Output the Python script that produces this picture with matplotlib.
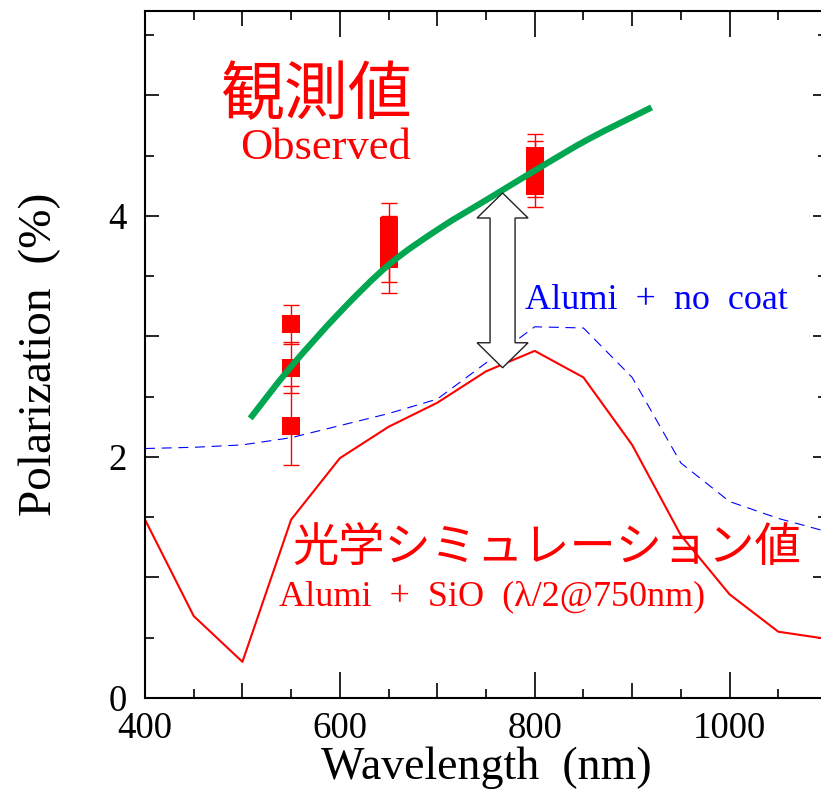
import numpy as np
import matplotlib
matplotlib.use("Agg")
import matplotlib.pyplot as plt
from matplotlib.patches import Polygon, PathPatch
from matplotlib.path import Path
from matplotlib.transforms import IdentityTransform

plt.rcParams['font.family'] = ['Liberation Serif', 'DejaVu Sans']
JP = ['Noto Sans CJK JP', 'DejaVu Sans']

# simulation: Alumi + SiO (lambda/2 @ 750nm)
sim_wl = [400, 450, 500, 550, 600, 650, 700, 750, 800, 850, 900, 950, 1000, 1050, 1100]
sim_sio = [1.48, 0.68, 0.30, 1.48, 1.99, 2.25, 2.45, 2.71, 2.88, 2.66, 2.10, 1.35, 0.86, 0.55, 0.49]

# simulation: Alumi + no coat
nocoat = [2.07, 2.08, 2.10, 2.16, 2.26, 2.36, 2.48, 2.78, 3.08, 3.07, 2.66, 1.95, 1.63, 1.49, 1.38]

# observed values with errors
obs_wl = [550, 550, 550, 650, 650, 650, 650, 800, 800, 800, 800]
obs_pol = [3.10, 2.74, 2.26, 3.92, 3.80, 3.70, 3.64, 4.50, 4.43, 4.33, 4.25]
obs_err = [0.16, 0.21, 0.33, 0.19, 0.20, 0.25, 0.28, 0.18, 0.19, 0.17, 0.18]

# green trend curve
fit_wl = [508, 549, 600, 651, 703, 754, 805, 856, 920]
fit_pol = [2.32, 2.74, 3.20, 3.60, 3.90, 4.15, 4.40, 4.64, 4.90]

# gap arrow
arrow_wl = 767
arrow_top = 4.19
arrow_bottom = 2.74


def smooth_path(xs, ys):
    # Catmull-Rom through the points, as cubic Bezier segments
    pts = np.column_stack([xs, ys]).astype(float)
    verts = [pts[0]]
    codes = [Path.MOVETO]
    n = len(pts)
    for i in range(n - 1):
        p0 = pts[max(i - 1, 0)]
        p1 = pts[i]
        p2 = pts[i + 1]
        p3 = pts[min(i + 2, n - 1)]
        c1 = p1 + (p2 - p0) / 6.0
        c2 = p2 - (p3 - p1) / 6.0
        verts += [c1, c2, p2]
        codes += [Path.CURVE4] * 3
    return Path(verts, codes)


fig = plt.figure(figsize=(8.21, 7.92), dpi=100)
ax = fig.add_axes([145/821, 94/792, 682/821, 687/792])

ax.plot(sim_wl, sim_sio, color='#ff0000', lw=1.5, zorder=2)
ax.plot(sim_wl, nocoat, color='#0000ff', lw=0.8, dashes=(9, 6), zorder=2)
ax.add_patch(PathPatch(smooth_path(fit_wl, fit_pol), facecolor='none',
                       edgecolor='#00a650', lw=4.5, capstyle='butt', zorder=4))
ax.errorbar(obs_wl, obs_pol, yerr=obs_err, fmt='none', ecolor='#ff0000',
            elinewidth=1.0, capsize=6, capthick=1.0, zorder=3)
ax.plot(obs_wl, obs_pol, 's', color='#ff0000', ms=13, mew=0, zorder=3)

ax.set_xlim(400, 1100)
ax.set_ylim(0, 5.7)

# ticks
xt = list(range(400, 1101, 100))
ax.set_xticks(xt)
ax.set_xticklabels([str(v) if v % 200 == 0 else '' for v in xt])
ax.set_xticks(range(450, 1100, 100), minor=True)
yt = [0, 1, 2, 3, 4, 5]
ax.set_yticks(yt)
ax.set_yticklabels([str(v) if v % 2 == 0 else '' for v in yt])
ax.set_yticks(np.arange(0.5, 5.7, 1.0), minor=True)
ax.tick_params(which='both', direction='in', top=True, right=True, width=1.2,
               labelsize=26.5, colors='black')
ax.tick_params(axis='x', which='major', pad=10)
ax.tick_params(axis='y', which='major', length=10, pad=13)
ax.tick_params(axis='x', which='minor', length=6.5)
ax.tick_params(axis='y', which='minor', length=6.5)
for tk, v in zip(ax.xaxis.get_major_ticks(), xt):
    L = 18.7 if v % 200 == 0 else 10.8
    tk.tick1line.set_markersize(L)
    tk.tick2line.set_markersize(L)
for s in ax.spines.values():
    s.set_linewidth(1.5)

ax.set_xlabel('Wavelength  (nm)', fontsize=33, labelpad=0)
ax.set_ylabel('Polarization  (%)', fontsize=34, labelpad=34)

# text labels
ax.text(575, 5.0, '観測値', color='#ff0000', fontsize=46, family=JP,
        ha='center', va='center')
ax.text(585, 4.56, 'Observed', color='#ff0000', fontsize=32,
        ha='center', va='center')
ax.text(790, 3.30, 'Alumi  +  no  coat', color='#0000ff', fontsize=26,
        ha='left', va='center')
ax.text(551, 1.25, '光学シミュレーション値', color='#ff0000', fontsize=33.3,
        family=JP, ha='left', va='center')
ax.text(538, 0.84, 'Alumi  +  SiO  (λ/2@750nm)', color='#ff0000', fontsize=26,
        ha='left', va='center')

# hollow double arrow, sized in pixels
x0, yt_px = ax.transData.transform((arrow_wl, arrow_top))
_, yb_px = ax.transData.transform((arrow_wl, arrow_bottom))
hw, hl, sw = 51, 25, 25
verts = [(x0, yt_px), (x0 + hw/2, yt_px - hl), (x0 + sw/2, yt_px - hl),
         (x0 + sw/2, yb_px + hl), (x0 + hw/2, yb_px + hl), (x0, yb_px),
         (x0 - hw/2, yb_px + hl), (x0 - sw/2, yb_px + hl),
         (x0 - sw/2, yt_px - hl), (x0 - hw/2, yt_px - hl)]
arr = Polygon(verts, closed=True, facecolor='white', edgecolor='#222222',
              lw=1.0, transform=IdentityTransform(), zorder=5)
ax.add_patch(arr)

fig.savefig('out.png', dpi=100)
